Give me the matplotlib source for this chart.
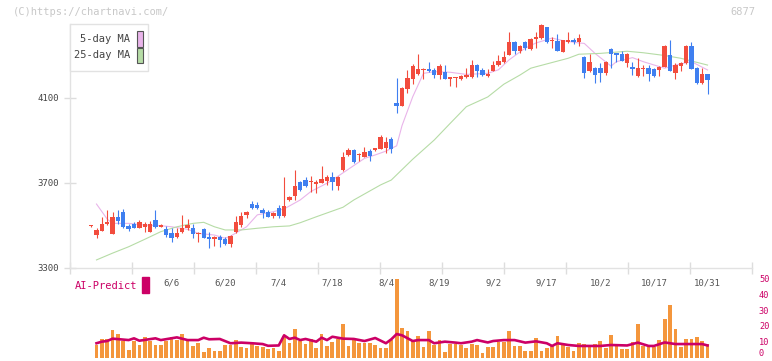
import matplotlib
matplotlib.use("Agg")
import matplotlib.pyplot as plt
import matplotlib.transforms as mtransforms
from matplotlib.patches import Rectangle
import numpy as np

# daily candles, index 0 = first trading day shown (2025-05-16)
opens = [3497, 3457, 3476, 3506, 3461, 3540, 3564, 3498, 3508, 3490,
         3494, 3471, 3526, 3495, 3484, 3466, 3446, 3469, 3488, 3490,
         3459, 3485, 3447, 3438, 3447, 3438, 3414, 3471, 3502, 3549,
         3601, 3596, 3573, 3565, 3545, 3584, 3545, 3620, 3639, 3705,
         3714, 3703, 3697, 3702, 3711, 3730, 3686, 3761, 3832, 3855,
         3830, 3824, 3851, 3855, 3861, 3865, 3908, 4078, 4064, 4144,
         4188, 4214, 4232, 4236, 4232, 4210, 4222, 4191, 4194, 4191,
         4199, 4200, 4255, 4232, 4205, 4229, 4254, 4271, 4304, 4364,
         4320, 4364, 4331, 4378, 4382, 4434, 4368, 4368, 4318, 4364,
         4372, 4364, 4293, 4227, 4243, 4241, 4219, 4331, 4310, 4307,
         4266, 4246, 4205, 4236, 4243, 4238, 4233, 4247, 4301, 4219,
         4252, 4263, 4345, 4243, 4172, 4213]
highs = [3500, 3490, 3540, 3573, 3565, 3573, 3578, 3506, 3518, 3526,
         3518, 3521, 3573, 3505, 3499, 3487, 3490, 3549, 3530, 3506,
         3468, 3490, 3471, 3450, 3455, 3447, 3455, 3545, 3565, 3568,
         3617, 3612, 3581, 3573, 3565, 3596, 3730, 3640, 3761, 3711,
         3728, 3733, 3714, 3780, 3738, 3752, 3733, 3847, 3863, 3858,
         3840, 3868, 3860, 3867, 3926, 3918, 3918, 4196, 4152, 4232,
         4260, 4307, 4241, 4269, 4243, 4260, 4255, 4199, 4199, 4210,
         4241, 4279, 4258, 4241, 4236, 4273, 4304, 4320, 4411, 4366,
         4348, 4366, 4380, 4411, 4450, 4436, 4387, 4401, 4375, 4409,
         4382, 4401, 4296, 4307, 4248, 4263, 4272, 4333, 4312, 4321,
         4310, 4271, 4288, 4257, 4257, 4240, 4250, 4348, 4373, 4263,
         4268, 4348, 4365, 4245, 4243, 4215]
lows = [3495, 3443, 3472, 3500, 3458, 3506, 3490, 3474, 3488, 3486,
        3471, 3468, 3490, 3495, 3447, 3424, 3440, 3465, 3479, 3443,
        3424, 3440, 3396, 3405, 3400, 3410, 3400, 3463, 3495, 3535,
        3578, 3578, 3534, 3538, 3535, 3534, 3540, 3615, 3620, 3662,
        3683, 3658, 3654, 3700, 3691, 3667, 3667, 3755, 3828, 3796,
        3805, 3820, 3805, 3852, 3858, 3843, 3843, 4031, 4060, 4122,
        4166, 4210, 4190, 4222, 4196, 4189, 4188, 4158, 4153, 4186,
        4196, 4196, 4200, 4205, 4200, 4225, 4250, 4265, 4300, 4307,
        4310, 4327, 4328, 4335, 4378, 4359, 4335, 4320, 4315, 4360,
        4355, 4346, 4194, 4222, 4172, 4177, 4210, 4243, 4271, 4272,
        4248, 4210, 4200, 4205, 4181, 4200, 4205, 4244, 4225, 4191,
        4229, 4260, 4235, 4168, 4168, 4120]
closes = [3500, 3480, 3507, 3518, 3540, 3521, 3494, 3484, 3490, 3516,
          3507, 3507, 3493, 3500, 3455, 3443, 3466, 3487, 3502, 3459,
          3466, 3443, 3438, 3447, 3432, 3414, 3451, 3518, 3545, 3564,
          3581, 3581, 3560, 3541, 3560, 3545, 3592, 3634, 3686, 3667,
          3686, 3709, 3706, 3719, 3730, 3703, 3730, 3821, 3855, 3800,
          3835, 3846, 3827, 3865, 3918, 3893, 3861, 4064, 4149, 4196,
          4251, 4236, 4236, 4227, 4210, 4251, 4191, 4199, 4199, 4205,
          4210, 4255, 4229, 4210, 4214, 4255, 4276, 4294, 4364, 4320,
          4345, 4335, 4378, 4387, 4445, 4364, 4372, 4323, 4372, 4372,
          4364, 4382, 4218, 4269, 4210, 4219, 4269, 4309, 4302, 4276,
          4307, 4238, 4241, 4241, 4214, 4205, 4247, 4345, 4229, 4255,
          4265, 4345, 4238, 4172, 4213, 4186]

# volume (right scale), first day has none
volume = [np.nan, 8.0, 11.8, 11.8, 17.4, 14.9, 10.7, 4.8, 10.7, 8.0,
          12.8, 10.7, 8.0, 8.0, 10.7, 12.8, 11.3, 14.9, 11.3, 7.4,
          9.2, 3.6, 6.1, 4.4, 4.4, 8.0, 8.0, 11.3, 6.7, 6.1,
          9.2, 7.4, 6.7, 5.5, 6.1, 4.2, 13.7, 9.2, 18.0, 10.7,
          8.6, 11.8, 6.1, 14.9, 7.4, 9.8, 11.8, 21.4, 7.4, 11.8,
          9.2, 9.2, 9.2, 8.0, 6.1, 6.1, 11.3, 49.5, 18.7, 16.8,
          11.3, 13.7, 6.7, 16.8, 8.0, 11.3, 3.6, 8.6, 8.6, 8.0,
          6.1, 8.6, 8.0, 3.0, 6.7, 6.7, 9.8, 9.8, 16.8, 7.4,
          7.4, 4.2, 4.2, 12.4, 4.2, 6.1, 7.4, 13.7, 8.6, 6.7,
          4.2, 9.2, 8.6, 8.0, 8.6, 10.7, 6.1, 14.3, 8.0, 5.5,
          5.5, 9.8, 21.0, 7.4, 6.7, 6.7, 11.3, 24.1, 33.0, 18.0,
          6.7, 11.8, 11.8, 13.0, 10.7, 8.6]

ma5_idx = [1, 3, 4, 7, 10, 13, 15, 18, 20, 23, 25, 26, 29, 31, 34, 36, 39, 41,
           44, 45, 48, 51, 53, 55, 57, 58, 60, 62, 64, 67, 70, 74, 76, 78, 81,
           83, 86, 88, 91, 92, 94, 97, 98, 101, 103, 107, 109, 112, 115]
ma5_val = [3601, 3530, 3510, 3510, 3502, 3499, 3494, 3482, 3463, 3455, 3440,
           3450, 3494, 3550, 3565, 3578, 3620, 3660, 3699, 3714, 3765, 3816,
           3832, 3850, 3875, 3970, 4106, 4216, 4224, 4221, 4211, 4216, 4233,
           4280, 4335, 4359, 4382, 4370, 4359, 4357, 4310, 4250, 4271, 4290,
           4271, 4240, 4255, 4271, 4232]

ma25_idx = [1, 4, 7, 10, 13, 16, 19, 21, 23, 25, 28, 31, 34, 37, 39, 42, 47,
            49, 54, 56, 60, 64, 67, 70, 74, 77, 80, 82, 83, 89, 91, 95, 100,
            103, 107, 110, 115]
ma25_val = [3338, 3370, 3400, 3435, 3471, 3494, 3510, 3515, 3494, 3479, 3479,
            3487, 3494, 3498, 3513, 3541, 3586, 3620, 3691, 3714, 3812, 3902,
            3981, 4059, 4105, 4165, 4208, 4240, 4247, 4287, 4306, 4310, 4320,
            4313, 4300, 4287, 4255]

ai_idx = [1, 2, 3, 4, 7, 8, 9, 12, 13, 16, 18, 20, 21, 22, 24, 26, 28, 30, 32,
          33, 35, 36, 37, 38, 39, 40, 42, 43, 44, 45, 47, 49, 51, 53, 55, 56,
          57, 58, 60, 61, 63, 64, 66, 68, 69, 71, 72, 74, 75, 77, 79, 81, 83,
          85, 86, 87, 89, 91, 95, 97, 100, 102, 104, 105, 107, 109, 111, 114,
          115]
ai_val = [9.1, 10.1, 10.5, 12.0, 11.1, 12.2, 10.7, 12.2, 11.1, 12.8, 11.1,
          11.1, 12.6, 11.6, 11.8, 9.1, 9.5, 9.1, 8.6, 7.5, 7.7, 14.1, 11.8,
          12.6, 11.1, 11.8, 10.1, 12.6, 11.1, 13.2, 12.0, 11.8, 10.5, 12.4,
          9.1, 11.6, 14.9, 14.1, 10.5, 11.1, 11.1, 9.1, 10.1, 9.5, 9.1, 10.1,
          11.1, 9.6, 10.5, 11.1, 11.1, 9.5, 10.3, 9.1, 7.4, 9.1, 8.0, 7.4,
          7.4, 8.0, 7.7, 9.5, 7.4, 7.4, 9.6, 8.6, 8.6, 8.6, 7.7]

date_idx = [15, 25, 35, 45, 55, 65, 75, 85, 95, 105, 115]
date_lbl = ["6/6", "6/20", "7/4", "7/18", "8/4", "8/19", "9/2", "9/17",
            "10/2", "10/17", "10/31"]

RED = "#f24c3d"
BLUE = "#3f7ff0"
PINK = "#e9b4ea"
GREEN = "#b6dca6"
ORANGE = "#f4963c"
MAGENTA = "#cc0066"
MONO = "DejaVu Sans Mono"

W, H = 772, 361
fig = plt.figure(figsize=(W / 100, H / 100), dpi=100)


def fx(px):
    return px / W


def fy(py):
    return 1 - py / H


ax = fig.add_axes([fx(70), fy(268), fx(752) - fx(70), fy(13) - fy(268)])
vax = fig.add_axes([fx(70), fy(357.7), fx(752) - fx(70), fy(278.3) - fy(357.7)])

x0 = (70 - 91.14) / 5.36
x1 = (752 - 91.14) / 5.36

# candles
o = np.array(opens, float)
c = np.array(closes, float)
idx = np.arange(len(o))
cols = [RED if cc >= oo else BLUE for oo, cc in zip(o, c)]
ax.vlines(idx, lows, highs, colors=cols, lw=0.8, zorder=3)
body = np.maximum(np.abs(c - o), 4.5)
ax.bar(idx, body, bottom=np.minimum(o, c), width=0.82, color=cols,
       linewidth=0, zorder=4)

ax.plot(ma5_idx, ma5_val, color=PINK, lw=0.8, zorder=2)
ax.plot(ma25_idx, ma25_val, color=GREEN, lw=0.8, zorder=2)

ax.set_xlim(x0, x1)
ax.set_ylim(3300, 4500)
for s in ["top", "right"]:
    ax.spines[s].set_visible(False)
for s in ["left", "bottom"]:
    ax.spines[s].set_color("#e2e2e2")
    ax.spines[s].set_linewidth(1)
ax.spines["left"].set_bounds(3300, 4450)
ax.set_xticks(np.linspace(x0, x1, 12))
ax.set_xticklabels([])
ax.set_yticks([3300, 3700, 4100])
ax.set_yticklabels(["3300", "3700", "4100"], family=MONO, fontsize=6.5,
                   color="#444444")
ax.tick_params(axis="both", direction="inout", length=8, width=1,
               color="#dddddd", pad=4)

# volume panel
vax.bar(idx, volume, width=0.7, color=ORANGE, linewidth=0)
vax.plot(ai_idx, ai_val, color=MAGENTA, lw=1.9, solid_joinstyle="round")
vax.set_xlim(x0, x1)
vax.set_ylim(0, 50)
for s in vax.spines.values():
    s.set_visible(False)
vax.set_xticks([])
vax.yaxis.tick_right()
vax.set_yticks([0, 10, 20, 30, 40, 50])
vax.set_yticklabels(["0", "10", "20", "30", "40", "50"], family=MONO,
                    fontsize=6.2, color=MAGENTA)
vax.tick_params(axis="y", length=0, pad=5)
# keep the bottom "0" inside the canvas
vax.get_yticklabels()[0].set_verticalalignment("bottom")
vax.get_yticklabels()[0].set_y(0)

tr = mtransforms.blended_transform_factory(ax.transData, fig.transFigure)
for d, lbl in zip(date_idx, date_lbl):
    fig.text(d, fy(282.5), lbl, transform=tr, ha="center", va="center",
             family=MONO, fontsize=6.5, color="#555555")

fig.text(fx(75), fy(286), "AI-Predict", ha="left", va="center", family=MONO,
         fontsize=7.5, color=MAGENTA)
fig.patches.append(Rectangle((fx(142), fy(292.7)), fx(7), fy(277.3) - fy(292.7),
                             transform=fig.transFigure, color=MAGENTA))

# legend box
fig.patches.append(Rectangle((fx(70.3), fy(71)), fx(78), fy(24) - fy(71),
                             transform=fig.transFigure, facecolor="white",
                             edgecolor="#e2e2e2", lw=1, zorder=5))
fig.text(fx(130), fy(39.5), "5-day MA", ha="right", va="center", family=MONO,
         fontsize=7.5, color="#444444", zorder=6)
fig.text(fx(130), fy(55.5), "25-day MA", ha="right", va="center", family=MONO,
         fontsize=7.5, color="#444444", zorder=6)
fig.patches.append(Rectangle((fx(136.5), fy(46.5)), fx(6), fy(31.5) - fy(46.5),
                             transform=fig.transFigure, facecolor=PINK,
                             edgecolor="#555555", lw=0.8, zorder=6))
fig.patches.append(Rectangle((fx(136.5), fy(63)), fx(6), fy(48.5) - fy(63),
                             transform=fig.transFigure, facecolor=GREEN,
                             edgecolor="#555555", lw=0.8, zorder=6))

fig.text(fx(13), fy(12), "(C)https://chartnavi.com/", ha="left", va="center",
         family=MONO, fontsize=7.5, color="#c8c8c8")
fig.text(fx(755), fy(12), "6877", ha="right", va="center", family=MONO,
         fontsize=7.5, color="#c8c8c8")

fig.savefig("out.png", dpi=100)
